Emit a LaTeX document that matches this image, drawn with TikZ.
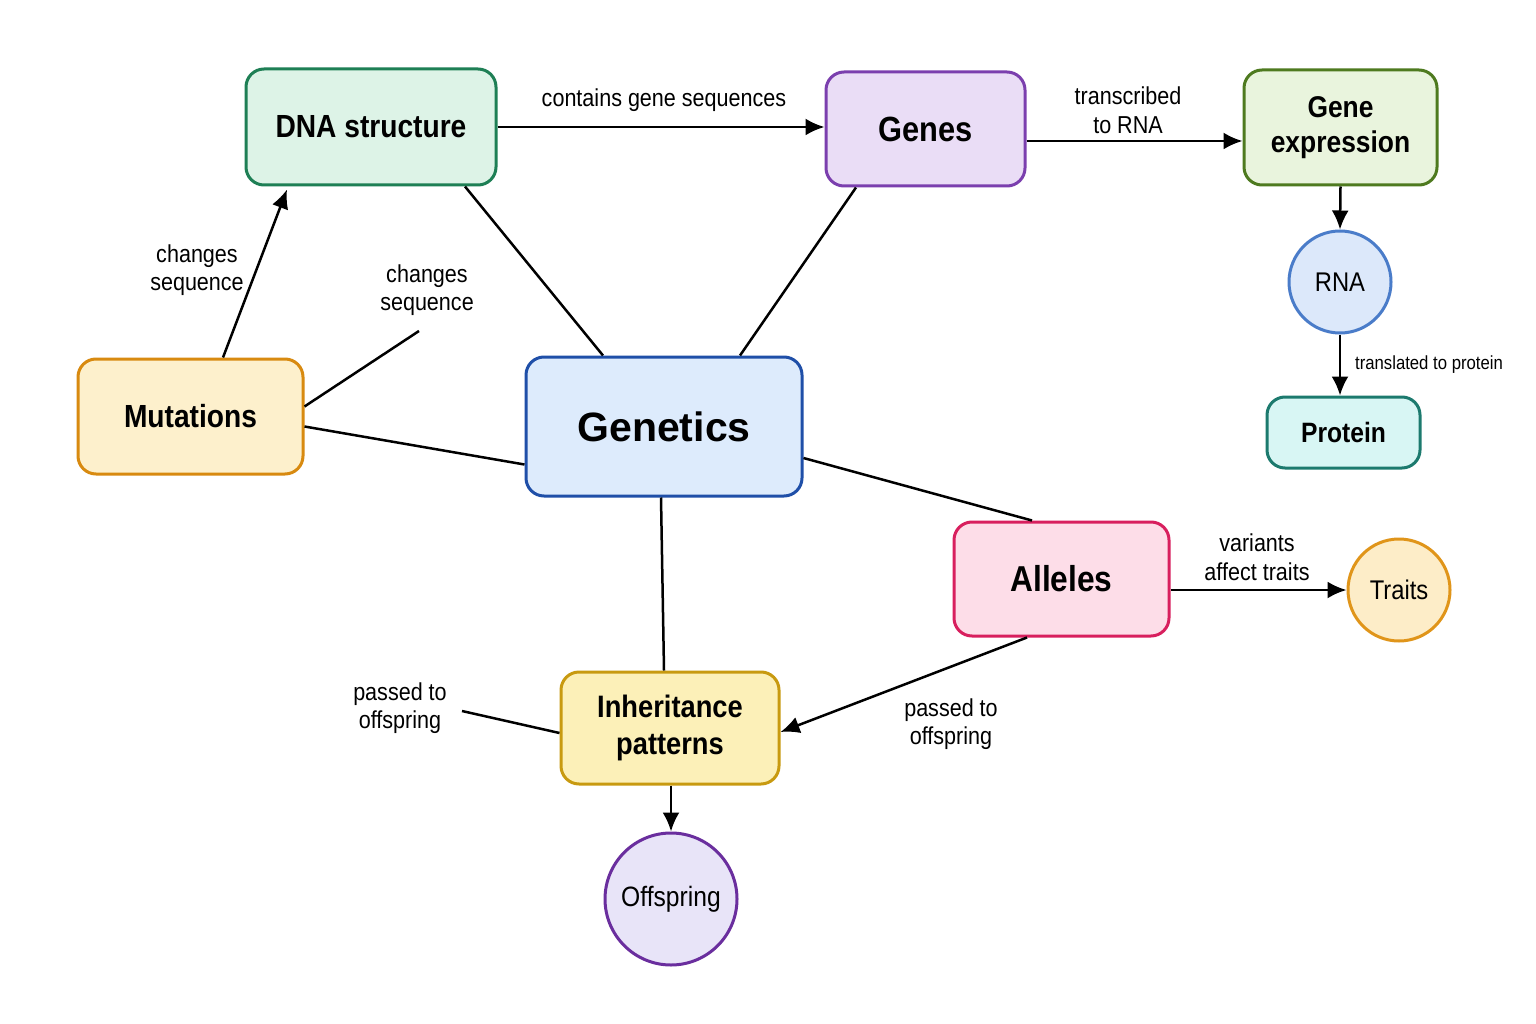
\documentclass[tikz,border=0pt]{standalone}
\usepackage{fontspec}
\setmainfont{Liberation Sans}[FakeStretch=0.88]
\newfontfamily\widefont{Liberation Sans}
\usetikzlibrary{arrows.meta,calc}
\newcommand{\fsz}[1]{\edef\myskip{\fpeval{1.17*#1}}\fontsize{#1}{\myskip}\selectfont}
\definecolor{dnaF}{HTML}{DDF3E7}\definecolor{dnaB}{HTML}{1E7F55}
\definecolor{genF}{HTML}{EADDF6}\definecolor{genB}{HTML}{7B3FAE}
\definecolor{gexF}{HTML}{E9F4DD}\definecolor{gexB}{HTML}{4E7A1F}
\definecolor{rnaF}{HTML}{DCE8FA}\definecolor{rnaB}{HTML}{4A7CC9}
\definecolor{proF}{HTML}{D8F6F4}\definecolor{proB}{HTML}{1C7A6E}
\definecolor{mutF}{HTML}{FDF0CC}\definecolor{mutB}{HTML}{D88A10}
\definecolor{gtcF}{HTML}{DDEBFC}\definecolor{gtcB}{HTML}{1F4FA8}
\definecolor{allF}{HTML}{FDDDE8}\definecolor{allB}{HTML}{D81F5E}
\definecolor{trtF}{HTML}{FDEDC8}\definecolor{trtB}{HTML}{E0951A}
\definecolor{inhF}{HTML}{FCF0B8}\definecolor{inhB}{HTML}{C89A10}
\definecolor{offF}{HTML}{E8E4F8}\definecolor{offB}{HTML}{6A2E9E}
\begin{document}
\begin{tikzpicture}[x=1pt,y=-1pt,
  box/.style={draw=#1B,fill=#1F,line width=3pt,rounded corners=18pt,
    align=center,inner sep=0pt},
  circ/.style={draw=#1B,fill=#1F,line width=3pt,circle,inner sep=0pt,align=center},
  lbl/.style={align=center,inner sep=0pt,text=black,font=\fsz{24.5}},
  conn/.style={line width=2.5pt,black},
  arr/.style={conn,-{Latex[length=19pt,width=17pt]}}]
\useasboundingbox[fill=white] (0,0) rectangle (1536,1024);

% nodes
\node[box=dna,minimum width=250pt,minimum height=116pt,font=\bfseries\fsz{32}] (dna) at (371,127) {DNA structure};
\node[box=gen,minimum width=199pt,minimum height=114pt,font=\bfseries\fsz{35}] (genes) at (925.5,129) {Genes};
\node[box=gex,minimum width=193pt,minimum height=115pt,font=\bfseries\fsz{30}] (gexp) at (1340.5,127.5) {Gene\\expression};
\node[circ=rna,minimum size=102pt,font=\fsz{27}] (rna) at (1340,282) {RNA};
\node[box=pro,minimum width=153pt,minimum height=71pt,font=\bfseries\fsz{28}] (prot) at (1343.5,432.5) {Protein};
\node[box=mut,minimum width=225pt,minimum height=115pt,font=\bfseries\fsz{32}] (mut) at (190.5,416.5) {Mutations};
\node[box=gtc,minimum width=276pt,minimum height=139pt,font=\widefont\bfseries\fsz{41}] (gen) at (664,426.5) {Genetics};
\node[box=all,minimum width=215pt,minimum height=114pt,font=\bfseries\fsz{36}] (all) at (1061.5,579) {Alleles};
\node[circ=trt,minimum size=102pt,font=\fsz{27}] (trt) at (1399,590) {Traits};
\node[box=inh,minimum width=218pt,minimum height=112pt,font=\bfseries\fsz{31}] (inh) at (670,728) {Inheritance\\patterns};
\node[circ=off,minimum size=132pt,font=\fsz{28}] (off) at (671,899) {Offspring};

% free ends
\coordinate (mutend) at (419,331);
\coordinate (inhend) at (462,711);

% connectors
\draw[arr] (dna.east) -- (dna.east -| genes.west);
\draw[arr] ([yshift=-12pt]genes.east) -- ([yshift=-13.5pt]gexp.west);
\draw[arr] (gexp.south) -- (rna.north);
\draw[arr] (rna.south) -- (rna.south |- prot.north);
\draw[arr] ($(mut.north)+(32.5,0)$) -- ($(dna.south)+(-84,3)$);
\draw[conn] ($(mut.east)+(0,-10)$) -- (mutend);
\draw[conn] ($(mut.east)+(0,10)$) -- ($(gen.west)+(0,38)$);
\draw[conn] ($(dna.south)+(94,0)$) -- ($(gen.north)+(-61,0)$);
\draw[conn] ($(genes.south)+(-69.5,0)$) -- ($(gen.north)+(76,0)$);
\draw[conn] ($(gen.east)+(0,31.5)$) -- ($(all.north)+(-29.5,0)$);
\draw[conn] ($(gen.south)+(-3,0)$) -- ($(inh.north)+(-6,0)$);
\draw[arr] ($(all.south)+(-34.5,0)$) -- ($(inh.east)+(0,4)$);
\draw[conn] ($(inh.west)+(0,5)$) -- (inhend);
\draw[arr] ($(all.east)+(0,11)$) -- (trt.west);
\draw[arr] ($(inh.south)+(1,0)$) -- (off.north);

% labels
\node[lbl] (l1) at (664,100) {contains gene sequences};
\node[lbl] (l2) at (1128,110) {transcribed\\to RNA};
\node[lbl,font=\fsz{19}] (l3) at (1429,365) {translated to protein};
\node[lbl] (l4) at (197,270) {changes\\sequence};
\node[lbl] (l5) at (427,290) {changes\\sequence};
\node[lbl] (l6) at (1257,557) {variants\\affect traits};
\node[lbl] (l7) at (951,724) {passed to\\offspring};
\node[lbl] (l8) at (400,708) {passed to\\offspring};
\end{tikzpicture}
\end{document}
